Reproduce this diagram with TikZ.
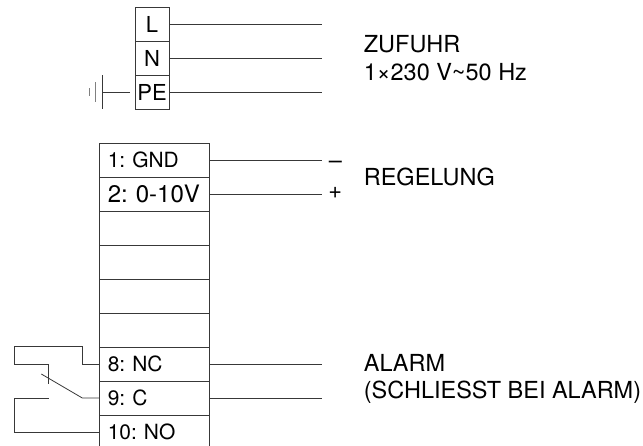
\documentclass[tikz,border=0pt]{standalone}
\usepackage{fontspec}
\setmainfont{TeX Gyre Heros}
\definecolor{gris}{rgb}{0.22,0.22,0.22}
\frenchspacing

\begin{document}
\begin{tikzpicture}[x=0.75pt, y=-0.75pt, line width=0.6pt, draw=gris]
  \tikzstyle{small}=[rectangle, draw=gris, minimum width=25.5pt, minimum height=25.5pt, inner sep=0pt, font=\fontsize{16.5}{18}\selectfont]
  \tikzstyle{row}=[rectangle, draw=gris, minimum width=83pt, minimum height=25.5pt, inner sep=0pt, text width=70pt, font=\fontsize{15.7}{18}\selectfont]
  \tikzstyle{label}=[anchor=base west, inner sep=0pt, font=\fontsize{17.6}{20}\selectfont]

	\useasboundingbox (0,0) rectangle (643,446);

	% supply terminals
	\node[small] (L) at (152,24) {L};
	\node[small] (N) at (152,58) {N};
	\node[small] (PE) at (152,92) {PE};

	% control terminals
	\node[row] (T1) at (154.5,160) {1: GND};
	\node[row, font=\fontsize{18}{20}\selectfont] (T2) at (154.5,194) {2: 0-10V};
	\node[row] (T3) at (154.5,228) {};
	\node[row] (T4) at (154.5,262) {};
	\node[row] (T5) at (154.5,296) {};
	\node[row] (T6) at (154.5,330) {};
	\node[row] (T8) at (154.5,364) {8: NC};
	\node[row] (T9) at (154.5,398) {9: C};
	\node[row] (T10) at (154.5,432) {10: NO};

	% free ends
	\coordinate (La) at (322,24);
	\coordinate (Na) at (322,58);
	\coordinate (PEa) at (322,92);
	\coordinate (T1a) at (322,160);
	\coordinate (T2a) at (322,194);
	\coordinate (T8a) at (322,364);
	\coordinate (T9a) at (322,398);
	\coordinate (PEb) at (130,92);
	\coordinate (E1) at (102.5,92);
	\coordinate (Ctop) at (48.3,364);
	\coordinate (Cend) at (48.3,384);
	\coordinate (Cno) at (48.7,398);
	\coordinate (Sw) at (82.3,398);
	\coordinate (Swb) at (41.3,374);

	\path
		(L) edge (La)
		(N) edge (Na)
		(PE) edge (PEa)
		(T1) edge (T1a)
		(T2) edge (T2a)
		(T8) edge (T8a)
		(T9) edge (T9a)
		(PEb) edge (E1)
		;

	% earth symbol
	\draw (E1) ++(0,-17) -- ++(0,34);
	\draw[gray] (95.5,82) -- (95.5,102);
	\draw[gray] (89,88) -- (89,96);

	% relay contact
	\draw (T8.west) -- (82.3,364) -- (82.3,346.7) -- (14.7,346.7) -- (14.7,364) -- (Ctop) -- (Cend);
	\draw (T9.west) -- (Sw) -- (Swb);
	\draw (Cno) -- (14.7,398) -- (14.7,432) -- (T10.west);

	\node[label] (zufuhr) at (363.5,52) {ZUFUHR};
	\node[label] (volt) at (363.5,80) {1×230 V\char`~50 Hz};
	\node[label] (regelung) at (363.5,185) {REGELUNG};
	\node[label] (alarm) at (363.5,371) {ALARM};
	\node[label] (schliesst) at (363.5,398) {(SCHLIESST BEI ALARM)};
	\node[label] (minus) at (328.5,168) {–};
	\node[label] (plus) at (328,198) {+};

\end{tikzpicture}
\end{document}
